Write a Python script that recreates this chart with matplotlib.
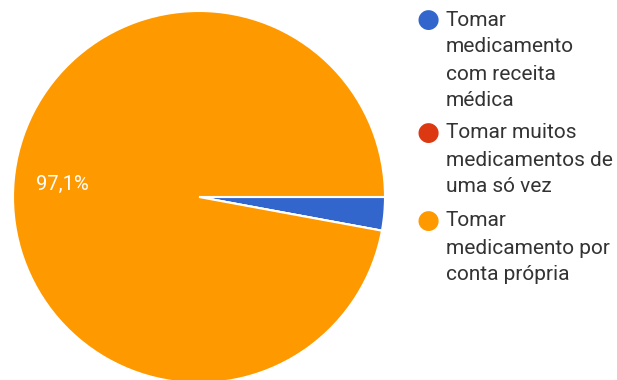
import matplotlib
matplotlib.use("Agg")
import matplotlib.pyplot as plt

plt.rcParams['font.family'] = ['Roboto', 'DejaVu Sans']

categories = [
    "Tomar\nmedicamento\ncom receita\nmédica",
    "Tomar muitos\nmedicamentos de\numa só vez",
    "Tomar\nmedicamento por\nconta própria",
]
values = [2.9, 0.0, 97.1]
colors = ["#3366CC", "#DC3912", "#FF9900"]

W, H = 617, 380
fig = plt.figure(figsize=(W / 100, H / 100), dpi=100)

# pie axes: centre (199, 197) px from top-left, radius 186 px
cx, cy, r = 199, 197, 186
ax = fig.add_axes([(cx - r) / W, (H - cy - r) / H, 2 * r / W, 2 * r / H])


def pct_label(p):
    return f"{p:.1f}%".replace(".", ",") if p >= 5 else ""


wedges, texts, autotexts = ax.pie(
    values,
    colors=colors,
    startangle=0,
    counterclock=False,
    autopct=pct_label,
    pctdistance=0.74,
    wedgeprops=dict(edgecolor="white", linewidth=1.5),
    textprops=dict(color="white", fontsize=14.5),
)
ax.set_xlim(-1.0, 1.0)
ax.set_ylim(-1.0, 1.0)
ax.set_aspect("equal")
ax.axis("off")

# legend: coloured dot beside the first line of each wrapped label
line_h = 27
starts = [20, 133, 221]
for label, color, y0 in zip(categories, colors, starts):
    fig.text(428 / W, 1 - y0 / H, "●", color=color, fontsize=19,
             ha="center", va="center", family=['DejaVu Sans'])
    for i, line in enumerate(label.split("\n")):
        fig.text(446 / W, 1 - (y0 + i * line_h) / H, line, color="#333333",
                 fontsize=15, ha="left", va="center")

fig.savefig("out.png", dpi=100, facecolor="white")
